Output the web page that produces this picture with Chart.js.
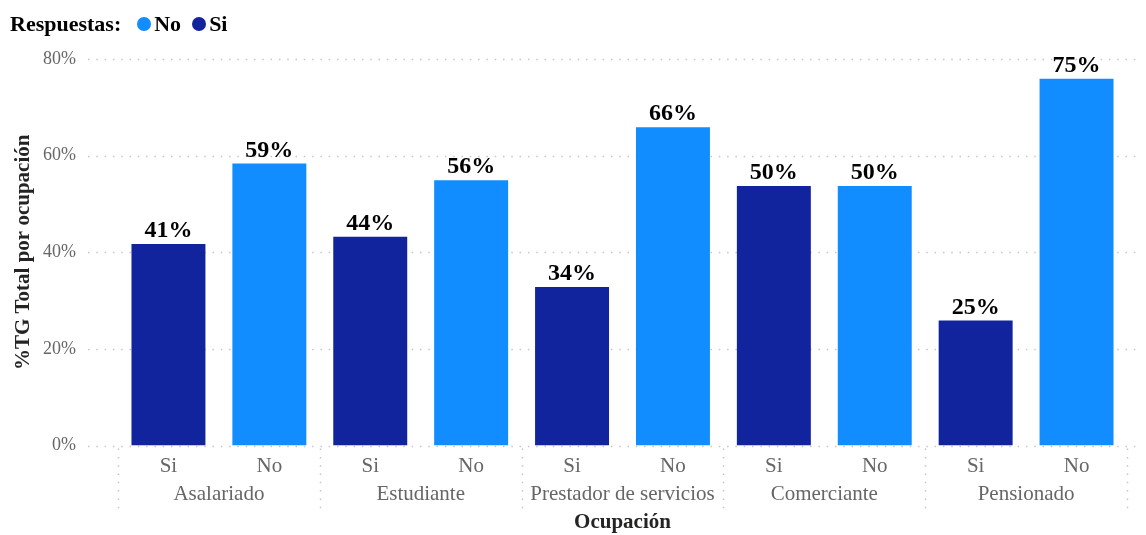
<!DOCTYPE html>
<html>
<head>
<meta charset="utf-8">
<script src="https://cdn.jsdelivr.net/npm/chart.js@4"></script>
<style>
  body { margin: 0; background: #fff; }
  #wrap { position: relative; width: 1146px; height: 535px; }
  #legend { position: absolute; left: 10px; top: 11px; font: bold 22px "Liberation Serif", serif; color: #000; display: flex; align-items: center; }
  #legend .dot { display: inline-block; width: 14px; height: 14px; border-radius: 50%; margin: 0 3px 0 0; }
  #legend .item { display: flex; align-items: center; margin-left: 11px; }
  #legend .item.first { margin-left: 16px; }
</style>
</head>
<body>
<div id="wrap">
  <canvas id="chart"></canvas>
  <div id="legend"></div>
</div>
<script>
const ocupaciones = ['Asalariado', 'Estudiante', 'Prestador de servicios', 'Comerciante', 'Pensionado'];
const respuestas = ['Si', 'No'];
// bar heights (%), and the labels shown above the bars
const siValues = [41.7, 43.2, 32.8, 53.7, 25.9];
const noValues = [58.4, 54.9, 65.9, 53.7, 75.9];
const siLabels = ['41%', '44%', '34%', '50%', '25%'];
const noLabels = ['59%', '56%', '66%', '50%', '75%'];
const yTicks = [0, 20, 40, 60, 80];

const colors = { Si: '#12239E', No: '#118DFF' };
const serif = '"Liberation Serif", "Times New Roman", serif';

// one slot per Si/No bar
const xLabels = [];
const siData = [];
const noData = [];
const shownLabels = [];
ocupaciones.forEach((o, i) => {
    xLabels.push('Si', 'No');
    siData.push(siValues[i], null);
    noData.push(null, noValues[i]);
    shownLabels.push(siLabels[i], noLabels[i]);
});

// legend
const legend = document.getElementById('legend');
legend.innerHTML = '<span>Respuestas:</span>' +
    ['No', 'Si'].map((r, i) => '<span class="item' + (i == 0 ? ' first' : '') + '"><span class="dot" style="background:' + colors[r] + '"></span>' + r + '</span>').join('');

const dotted = (ctx) => {
    ctx.strokeStyle = '#c6c6c6';
    ctx.lineWidth = 1.5;
    ctx.setLineDash([1.5, 6.8]);
};

const gridPlugin = {
    id: 'grid',
    beforeDatasetsDraw(chart) {
        const ctx = chart.ctx;
        const y = chart.scales.y;
        const x = chart.scales.x;
        const x2 = chart.scales.x2;
        ctx.save();
        dotted(ctx);
        yTicks.forEach(t => {
            const py = Math.round(y.getPixelForValue(t)) + 0.5;
            ctx.beginPath();
            ctx.moveTo(88, py);
            ctx.lineTo(chart.width - 6, py);
            ctx.stroke();
        });
        const w = x.width / ocupaciones.length;
        for (let i = 0; i <= ocupaciones.length; i++) {
            const px = Math.round(x.left + i * w) + 0.5;
            ctx.beginPath();
            ctx.moveTo(px, x.top + 3);
            ctx.lineTo(px, x2.top + 29);
            ctx.stroke();
        }
        ctx.restore();
    }
};

const labelPlugin = {
    id: 'barLabels',
    afterDatasetsDraw(chart) {
        const ctx = chart.ctx;
        ctx.save();
        ctx.font = 'bold 24px ' + serif;
        ctx.fillStyle = '#000';
        ctx.textAlign = 'center';
        ctx.textBaseline = 'bottom';
        chart.data.datasets.forEach((ds, di) => {
            chart.getDatasetMeta(di).data.forEach((bar, i) => {
                if (ds.data[i] == null) return;
                ctx.fillText(shownLabels[i], bar.x, bar.y - 1);
            });
        });
        ctx.restore();
    }
};

new Chart(document.getElementById('chart'), {
    type: 'bar',
    data: {
        labels: xLabels,
        datasets: [
            { label: 'No', data: noData, backgroundColor: colors.No, grouped: false },
            { label: 'Si', data: siData, backgroundColor: colors.Si, grouped: false }
        ]
    },
    options: {
        responsive: true,
        maintainAspectRatio: false,
        animation: false,
        skipNull: true,
        barPercentage: 0.733,
        categoryPercentage: 1,
        layout: { padding: { top: 59, right: 19, left: 0, bottom: 0 } },
        plugins: { legend: { display: false }, tooltip: { enabled: false } },
        scales: {
            x: {
                position: 'bottom',
                weight: 0,
                afterFit(scale) { scale.height = 36; },
                grid: { display: false, drawTicks: false },
                border: { display: false },
                ticks: { color: '#666', font: { family: serif, size: 21 }, padding: 8, maxRotation: 0, autoSkip: false }
            },
            x2: {
                type: 'category',
                position: 'bottom',
                weight: 1,
                labels: ocupaciones,
                offset: true,
                grid: { display: false, drawTicks: false },
                border: { display: false },
                ticks: { color: '#666', font: { family: serif, size: 21 }, padding: 0, maxRotation: 0, autoSkip: false },
                title: { display: true, text: 'Ocupación', color: '#252423', font: { family: serif, size: 21, weight: 'bold' }, padding: { top: 3, bottom: 0 } }
            },
            y: {
                min: 0,
                max: 80,
                afterFit(scale) { scale.width = 118; },
                afterBuildTicks(scale) { scale.ticks = yTicks.map(v => ({ value: v })); },
                grid: { display: false, drawTicks: false },
                border: { display: false },
                ticks: { color: '#666', font: { family: serif, size: 18 }, padding: 42, callback: v => v + '%' },
                title: { display: true, text: '%TG Total por ocupación', color: '#252423', font: { family: serif, size: 21, weight: 'bold' }, padding: { top: 11, bottom: 0 } }
            }
        }
    },
    plugins: [gridPlugin, labelPlugin]
});
</script>
</body>
</html>
